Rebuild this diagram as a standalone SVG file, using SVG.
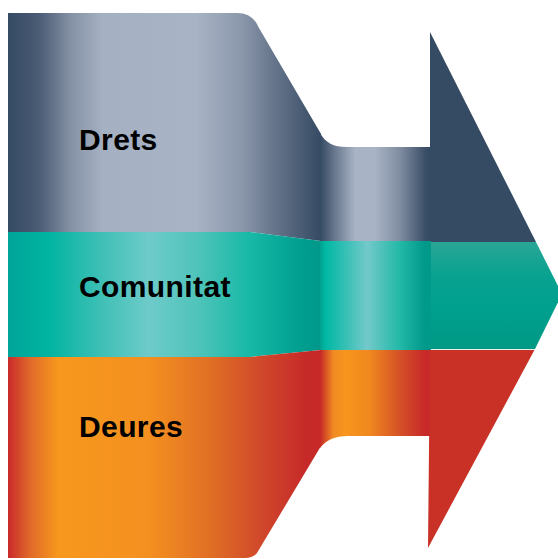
<svg xmlns="http://www.w3.org/2000/svg" width="558" height="559" viewBox="0 0 558 559">
<defs>
<linearGradient id="gNavy" gradientUnits="userSpaceOnUse" x1="8" y1="0" x2="321" y2="0">
<stop offset="0" stop-color="#354a63"/>
<stop offset="0.1" stop-color="#4b5c75"/>
<stop offset="0.2" stop-color="#8591a5"/>
<stop offset="0.3" stop-color="#a5b0c2"/>
<stop offset="0.6" stop-color="#a8b3c5"/>
<stop offset="0.75" stop-color="#8a96aa"/>
<stop offset="0.85" stop-color="#66758b"/>
<stop offset="1" stop-color="#354a63"/>
</linearGradient>
<linearGradient id="gNavyC" gradientUnits="userSpaceOnUse" x1="320" y1="0" x2="430" y2="0">
<stop offset="0" stop-color="#354a63"/>
<stop offset="0.14" stop-color="#6b7a90"/>
<stop offset="0.32" stop-color="#a8b3c5"/>
<stop offset="0.5" stop-color="#a8b3c5"/>
<stop offset="0.73" stop-color="#7f8ca0"/>
<stop offset="0.97" stop-color="#374c65"/>
<stop offset="1" stop-color="#354a63"/>
</linearGradient>
<linearGradient id="gTeal" gradientUnits="userSpaceOnUse" x1="8" y1="0" x2="321" y2="0">
<stop offset="0" stop-color="#00a599"/>
<stop offset="0.13" stop-color="#00b4a1"/>
<stop offset="0.29" stop-color="#3cbfb5"/>
<stop offset="0.45" stop-color="#6ecbc9"/>
<stop offset="0.61" stop-color="#4ec3b9"/>
<stop offset="0.77" stop-color="#18b9a7"/>
<stop offset="0.93" stop-color="#009f90"/>
<stop offset="1" stop-color="#00988a"/>
</linearGradient>
<linearGradient id="gTealC" gradientUnits="userSpaceOnUse" x1="320" y1="0" x2="430" y2="0">
<stop offset="0" stop-color="#00a08f"/>
<stop offset="0.05" stop-color="#00b8a3"/>
<stop offset="0.43" stop-color="#72c9c9"/>
<stop offset="0.72" stop-color="#24b9a8"/>
<stop offset="0.95" stop-color="#009a8b"/>
<stop offset="1" stop-color="#00998a"/>
</linearGradient>
<linearGradient id="gTealA" gradientUnits="userSpaceOnUse" x1="0" y1="242" x2="0" y2="349">
<stop offset="0" stop-color="#2aa696"/>
<stop offset="0.3" stop-color="#0aa290"/>
<stop offset="0.6" stop-color="#00a08f"/>
<stop offset="1" stop-color="#009985"/>
</linearGradient>
<linearGradient id="gRed" gradientUnits="userSpaceOnUse" x1="8" y1="0" x2="321" y2="0">
<stop offset="0" stop-color="#c92a2a"/>
<stop offset="0.07" stop-color="#e0692a"/>
<stop offset="0.16" stop-color="#f7981d"/>
<stop offset="0.45" stop-color="#f49020"/>
<stop offset="0.65" stop-color="#e06e25"/>
<stop offset="0.8" stop-color="#d14a2b"/>
<stop offset="0.95" stop-color="#c62a28"/>
<stop offset="1" stop-color="#c62828"/>
</linearGradient>
<linearGradient id="gRedC" gradientUnits="userSpaceOnUse" x1="320" y1="0" x2="430" y2="0">
<stop offset="0" stop-color="#c62828"/>
<stop offset="0.12" stop-color="#f08a22"/>
<stop offset="0.23" stop-color="#f7951d"/>
<stop offset="0.45" stop-color="#f0881f"/>
<stop offset="0.73" stop-color="#d45027"/>
<stop offset="0.95" stop-color="#c82a2a"/>
<stop offset="1" stop-color="#c82a2a"/>
</linearGradient>
</defs>
<style>
.lbl { font-family: "Liberation Sans", Arial, sans-serif; font-weight: bold; font-size: 30px; letter-spacing: 0.4px; fill: #000; }
</style>
<g id="arrow">
<path d="M430,32 L536,242 H430 Z" fill="#354a63"/>
<path d="M430,242 H536 L562,294 L535,349 H430 Z" fill="url(#gTealA)"/>
<path d="M430,349 H535 L428,548 Z" fill="#c93026"/>
<path d="M431,349.5 H535" stroke="#e6efec" stroke-width="1"/>
</g>
<g id="drets">
<path d="M8,13 H237 Q253,13 259,28 L321,134 L321,241 L250,232 H8 Z" fill="url(#gNavy)"/>
<path d="M320,133 C326,143 333,147 347,147 H431 V242 H320 Z" fill="url(#gNavyC)"/>
<text class="lbl" x="79" y="150">Drets</text>
</g>
<g id="comunitat">
<path d="M8,232 H250 L321,241 V350 L250,357 H8 Z" fill="url(#gTeal)"/>
<path d="M320,241 H431 V350 H320 Z" fill="url(#gTealC)"/>
<text class="lbl" x="79" y="297">Comunitat</text>
</g>
<g id="deures">
<path d="M8,357 H250 L321,350 L321,446 L257,553 Q253,558 245,558 H8 Z" fill="url(#gRed)"/>
<path d="M320,350 H430 V436 H348 C335,436 326,440 320,448 Z" fill="url(#gRedC)"/>
<text class="lbl" x="79" y="437">Deures</text>
</g>
<g id="connectors"/>
</svg>
